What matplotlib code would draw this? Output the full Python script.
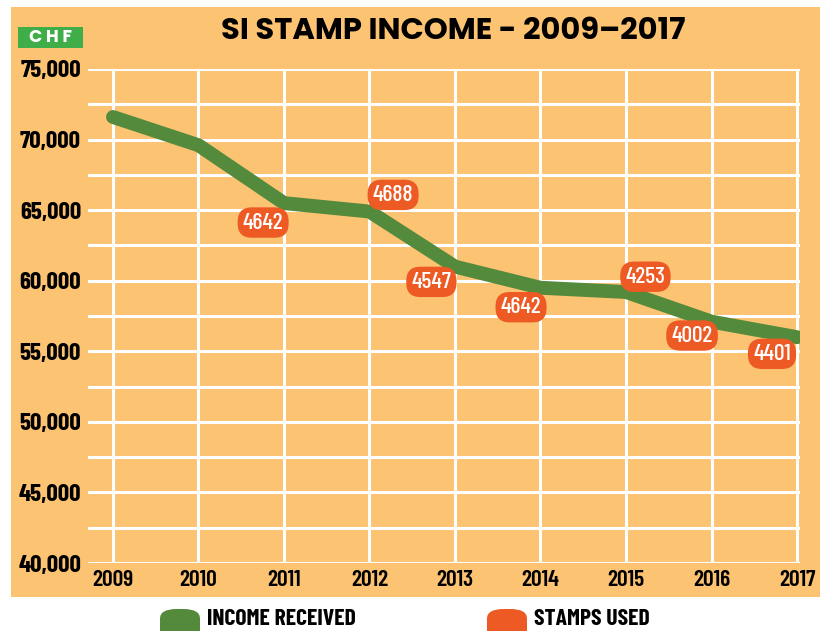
import numpy as np
import matplotlib
matplotlib.use("Agg")
import matplotlib.pyplot as plt
from matplotlib import font_manager as fm
from matplotlib.patches import FancyBboxPatch, Rectangle
from matplotlib.ticker import MultipleLocator, FuncFormatter

# data
years = [2009, 2010, 2011, 2012, 2013, 2014, 2015, 2016, 2017]
income = [71600, 69600, 65500, 64900, 61000, 59500, 59200, 57100, 56000]
stamps = [None, None, 4642, 4688, 4547, 4642, 4253, 4002, 4401]
# label offsets (points) relative to the line point
label_off = [None, None, (-15, -14), (17, 12), (-17, -11), (-14, -14),
             (14, 11), (-14, -10), (-18, -12)]

BG = "#FCC373"
GREEN = "#548A3C"
RED = "#EE5A24"
CHF_GREEN = "#3FAE49"

# families that have a bold (>=700) face installed
bold_ok = {f.name for f in fm.fontManager.ttflist
           if isinstance(f.weight, int) and f.weight >= 700}
installed = {f.name for f in fm.fontManager.ttflist}


def pick(cands, pool):
    for c in cands:
        if c in pool:
            return c
    return "DejaVu Sans"


NARROW = pick(["Barlow Condensed", "Roboto Condensed", "Archivo Narrow", "Oswald",
               "Liberation Sans Narrow"], installed)
GEO = pick(["Futura", "Jost", "League Spartan", "Poppins", "Kumbh Sans", "Montserrat"], bold_ok)

fig = plt.figure(figsize=(8.26, 6.31), dpi=100)
fig.patch.set_facecolor("white")

# orange panel behind the chart
fig.patches.append(Rectangle((11 / 826, 1 - 597 / 631), (820 - 11) / 826, (597 - 7) / 631,
                             transform=fig.transFigure, facecolor=BG, edgecolor="none", zorder=-5))

ax = fig.add_axes([88 / 826, 68 / 631, 712 / 826, 494 / 631])
ax.set_facecolor("none")
ax.set_zorder(2)
ax.set_xlim(2008.708, 2017.035)
ax.set_ylim(40000, 75000)
for s in ax.spines.values():
    s.set_visible(False)

ax.set_xticks(years)
ax.yaxis.set_major_locator(MultipleLocator(5000))
ax.yaxis.set_minor_locator(MultipleLocator(2500))
ax.yaxis.set_major_formatter(FuncFormatter(lambda v, p: f"{int(v):,}"))
ax.tick_params(length=0, which="both")
ax.tick_params(axis="y", pad=5)
ax.tick_params(axis="x", pad=5)
for lab in ax.get_yticklabels():
    lab.set_family(NARROW)
    lab.set_fontsize(18)
    lab.set_fontweight("bold")
for lab in ax.get_xticklabels():
    lab.set_family(NARROW)
    lab.set_fontsize(17)
    lab.set_fontweight("semibold")

ax.grid(True, which="both", axis="y", color="white", linewidth=2.2)
ax.grid(True, which="major", axis="x", color="white", linewidth=2.2)
ax.set_axisbelow(True)

ax.plot(years, income, color=GREEN, linewidth=10, solid_capstyle="round",
        solid_joinstyle="round", zorder=3)

for x, y, s, off in zip(years, income, stamps, label_off):
    if s is None:
        continue
    ax.annotate(str(s), (x, y), xytext=off, textcoords="offset points",
                ha="center", va="center", color="white", fontsize=17,
                family=NARROW, fontweight="medium", zorder=5,
                bbox=dict(boxstyle="round,pad=0.22,rounding_size=0.6",
                          facecolor=RED, edgecolor="none"))

# title and currency tag
fig.text(453 / 826, 1 - 32 / 631, "SI STAMP INCOME - 2009\u20132017", ha="center", va="center",
         fontsize=22, fontweight="bold", family=GEO, color="black")
fig.patches.append(Rectangle((18 / 826, 1 - 48 / 631), 65 / 826, 21 / 631,
                             transform=fig.transFigure, facecolor=CHF_GREEN, edgecolor="none"))
fig.text(50.5 / 826, 1 - 37.5 / 631, "C H F", ha="center", va="center", fontsize=12.5,
         fontweight="bold", family=GEO, color="white")

# legend at the bottom
for x0, col, txt in [(160, GREEN, "INCOME RECEIVED"), (487, RED, "STAMPS USED")]:
    fig.patches.append(FancyBboxPatch((x0 / 826, 1 - 640 / 631), 40 / 826, 31 / 631,
                                      boxstyle="round,pad=0,rounding_size=0.02",
                                      transform=fig.transFigure, facecolor=col,
                                      edgecolor="none", mutation_aspect=631 / 826))
    fig.text((x0 + 47) / 826, 1 - 625 / 631, txt, ha="left", va="baseline", fontsize=17,
             fontweight="bold", family=NARROW, color="black")

fig.savefig("out.png", dpi=100, facecolor=fig.get_facecolor())
